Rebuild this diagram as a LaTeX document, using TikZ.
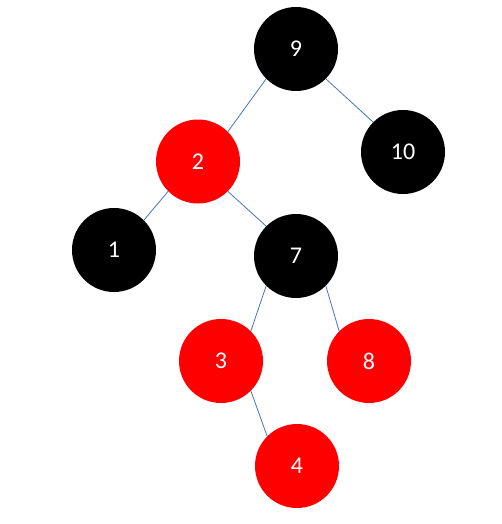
\documentclass[tikz,border=0pt]{standalone}
\usepackage{fontspec}
\setmainfont{Carlito}
\usetikzlibrary{arrows}
\definecolor{edgeblue}{HTML}{4472C4}

\begin{document}
\begin{tikzpicture}[line cap=round,line join=round,x=1pt,y=-1pt,
  blk/.style={circle,fill=black,minimum size=84pt,inner sep=0pt,text=white,font=\fontsize{24}{28}\selectfont},
  rd/.style={blk,fill=red},
  link/.style={color=edgeblue,line width=0.8pt}]
\useasboundingbox (0,0) rectangle (502,524);
\node[blk] (n9) at (296,49) {9};
\node[rd] (n2) at (198,161.5) {2};
\node[blk] (n10) at (403,152) {10};
\node[blk] (n1) at (114,250) {1};
\node[blk] (n7) at (296,256) {7};
\node[rd] (n3) at (221,361) {3};
\node[rd] (n8) at (369,361) {8};
\node[rd] (n4) at (297,466) {4};
\draw [link] (n9.south west)--(n2.north east);
\draw [link] (n9.south east)--(n10.north west);
\draw [link] (n2.south west)--(n1.north east);
\draw [link] (n2.south east)--(n7.north west);
\draw [link] (n7.south west)--(n3.north east);
\draw [link] (n7.south east)--(n8.north west);
\draw [link] (n3.south east)--(n4.north west);
\end{tikzpicture}
\end{document}
